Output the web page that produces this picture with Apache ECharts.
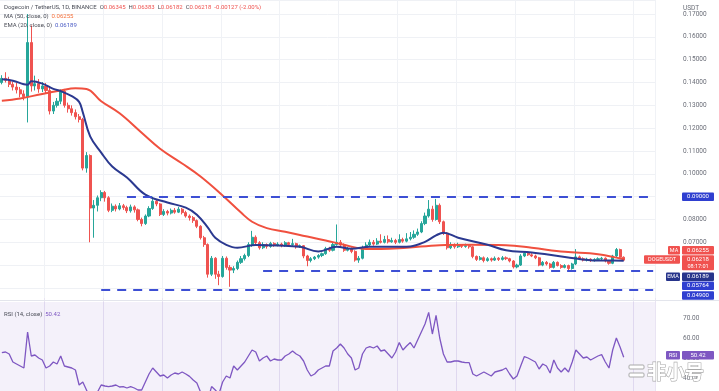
<!DOCTYPE html>
<html><head><meta charset="utf-8">
<script src="https://cdn.jsdelivr.net/npm/echarts@6/dist/echarts.min.js"></script>
<style>html,body{margin:0;padding:0;background:#fff;overflow:hidden}#c{width:719px;height:391px}</style>
</head><body><div id="c"></div>
<script>
// ---------------- data ----------------
const opens = [
.1400,.1418,.1410,.1392,.1380,.1368,.1350,.1338,.1575,.1385,
.1395,.1372,.1385,.1365,.1275,.1300,.1318,.1362,.1300,.1285,
.1268,.1250,.1238,.1025,.1080,.0850,.0862,.0895,.0918,.0895,
.0840,.0858,.0846,.0860,.0852,.0838,.0855,.0842,.0800,.0782,
.0815,.0848,.0880,.0868,.0822,.0835,.0828,.0840,.0832,.0845,
.0830,.0815,.0808,.0795,.0770,.0720,.0690,.0560,.0630,.0560,
.0550,.0630,.0590,.0578,.0585,.0612,.0628,.0642,.0690,.0722,
.0698,.0676,.0690,.0682,.0695,.0688,.0692,.0686,.0698,.0690,
.0694,.0680,.0685,.0640,.0620,.0628,.0635,.0642,.0650,.0672,
.0665,.0690,.0700,.0688,.0665,.0672,.0660,.0622,.0630,.0676,
.0688,.0700,.0692,.0705,.0700,.0712,.0702,.0708,.0700,.0712,
.0705,.0715,.0722,.0735,.0745,.0782,.0815,.0845,.0800,.0862,
.0790,.0740,.0676,.0690,.0680,.0688,.0682,.0685,.0680,.0638,
.0625,.0632,.0620,.0628,.0622,.0630,.0625,.0632,.0628,.0618,
.0592,.0600,.0640,.0652,.0645,.0640,.0632,.0600,.0612,.0605,
.0590,.0612,.0598,.0590,.0598,.0585,.0605,.0636,.0628,.0622,
.0626,.0620,.0625,.0628,.0630,.0618,.0608,.0640,.0668,.06345];
const highs = [
.1432,.1445,.1425,.1404,.1398,.1380,.1366,.1700,.1650,.1430,
.1415,.1402,.1398,.1378,.1315,.1332,.1370,.1372,.1312,.1300,
.1282,.1262,.1245,.1095,.1085,.0885,.0905,.0928,.0925,.0902,
.0870,.0866,.0872,.0868,.0860,.0865,.0862,.0848,.0808,.0822,
.0858,.0900,.0888,.0872,.0845,.0842,.0848,.0850,.0855,.0850,
.0838,.0822,.0815,.0800,.0775,.0728,.0695,.0640,.0635,.0575,
.0640,.0638,.0600,.0595,.0620,.0640,.0650,.0700,.0750,.0730,
.0705,.0700,.0695,.0702,.0700,.0700,.0698,.0705,.0702,.0715,
.0698,.0690,.0688,.0645,.0635,.0640,.0648,.0655,.0680,.0680,
.0700,.0778,.0710,.0695,.0680,.0678,.0665,.0640,.0685,.0700,
.0712,.0710,.0718,.0735,.0728,.0730,.0720,.0715,.0735,.0720,
.0740,.0745,.0752,.0760,.0792,.0830,.0885,.0860,.0890,.0870,
.0795,.0745,.0700,.0695,.0698,.0692,.0694,.0690,.0684,.0642,
.0640,.0638,.0635,.0633,.0638,.0635,.0640,.0638,.0632,.0622,
.0606,.0648,.0660,.0658,.0652,.0646,.0636,.0618,.0618,.0610,
.0618,.0616,.0604,.0604,.0602,.0610,.0670,.0642,.0634,.0632,
.0630,.0630,.0634,.0636,.0634,.0622,.0645,.0675,.0672,.06383];
const lows = [
.1392,.1400,.1380,.1365,.1352,.1335,.1322,.1225,.1360,.1365,
.1355,.1358,.1350,.1260,.1262,.1290,.1305,.1290,.1268,.1255,
.1238,.1225,.1015,.1005,.0700,.0720,.0835,.0880,.0878,.0832,
.0832,.0835,.0840,.0842,.0828,.0830,.0830,.0792,.0770,.0776,
.0810,.0842,.0858,.0815,.0815,.0818,.0822,.0825,.0828,.0822,
.0808,.0795,.0785,.0762,.0712,.0680,.0545,.0552,.0540,.0512,
.0545,.0580,.0505,.0565,.0578,.0605,.0620,.0635,.0680,.0690,
.0668,.0670,.0672,.0676,.0680,.0682,.0678,.0680,.0684,.0685,
.0672,.0675,.0630,.0595,.0612,.0622,.0628,.0635,.0645,.0658,
.0660,.0685,.0680,.0658,.0660,.0652,.0615,.0610,.0625,.0670,
.0680,.0685,.0688,.0695,.0695,.0695,.0698,.0692,.0695,.0698,
.0700,.0708,.0715,.0728,.0740,.0775,.0808,.0790,.0795,.0780,
.0732,.0668,.0670,.0672,.0675,.0675,.0676,.0672,.0630,.0618,
.0620,.0612,.0615,.0615,.0618,.0618,.0620,.0622,.0612,.0585,
.0586,.0596,.0635,.0640,.0635,.0626,.0595,.0595,.0598,.0584,
.0585,.0594,.0584,.0586,.0572,.0580,.0600,.0622,.0616,.0616,
.0614,.0615,.0618,.0622,.0612,.0602,.0604,.0635,.0630,.06182];
const closes = [
.1418,.1410,.1392,.1380,.1368,.1350,.1338,.1575,.1385,.1395,
.1372,.1385,.1365,.1275,.1300,.1318,.1362,.1300,.1285,.1268,
.1250,.1238,.1025,.1080,.0850,.0862,.0895,.0918,.0895,.0840,
.0858,.0846,.0860,.0852,.0838,.0855,.0842,.0800,.0782,.0815,
.0848,.0880,.0868,.0822,.0835,.0828,.0840,.0832,.0845,.0830,
.0815,.0808,.0795,.0770,.0720,.0690,.0560,.0630,.0560,.0550,
.0630,.0590,.0578,.0585,.0612,.0628,.0642,.0690,.0722,.0698,
.0676,.0690,.0682,.0695,.0688,.0692,.0686,.0698,.0690,.0694,
.0680,.0685,.0640,.0620,.0628,.0635,.0642,.0650,.0672,.0665,
.0690,.0700,.0688,.0665,.0672,.0660,.0622,.0630,.0676,.0688,
.0700,.0692,.0705,.0700,.0712,.0702,.0708,.0700,.0712,.0705,
.0715,.0722,.0735,.0745,.0782,.0815,.0845,.0800,.0862,.0790,
.0740,.0676,.0690,.0680,.0688,.0682,.0685,.0680,.0638,.0625,
.0632,.0620,.0628,.0622,.0630,.0625,.0632,.0628,.0618,.0592,
.0600,.0640,.0652,.0645,.0640,.0632,.0600,.0612,.0605,.0590,
.0612,.0598,.0590,.0598,.0585,.0605,.0636,.0628,.0622,.0626,
.0620,.0625,.0628,.0630,.0618,.0608,.0640,.0668,.06345,.06218];
// MA(50) and EMA(20): [candle index, value]
const maPoints = [[0,.1320],[5,.1330],[11,.1350],[16,.1365],[20,.1375],[23,.1372],[27,.1318],[32,.1265],
 [38,.1180],[43,.1110],[49,.1045],[54,.0988],[60,.0905],[65,.0830],[68,.0790],[72,.0762],[77,.0746],[83,.0725],
 [88,.0708],[93,.0689],[98,.0672],[103,.0670],[110,.0676],[119,.0687],[127,.0689],[137,.0687],[144,.0676],
 [153,.0658],[162,.0648],[169,.06255]];
const emaPoints = [[0,.1414],[3,.1408],[6,.1392],[7,.1390],[8,.1405],[11,.1395],[14,.1372],[16,.1362],[19,.1340],
 [21,.1315],[22,.1270],[24,.1164],[27,.1093],[30,.1032],[34,.0984],[39,.0909],[45,.0874],[50,.0852],[53,.0821],
 [56,.0764],[58,.0720],[61,.0689],[64,.0676],[69,.0688],[75,.0686],[81,.0680],[86,.0660],[91,.0680],[95,.0672],
 [100,.0680],[106,.0680],[111,.0682],[115,.0702],[118,.0730],[120,.0742],[124,.0720],[132,.0689],[137,.0665],
 [144,.0655],[153,.0636],[162,.0620],[166,.0620],[169,.06189]];
const rsiValues = [
52.7,53,52,48,47,46,45,63,51,51.5,
50,49,45,46,48,47,51,46,45.5,45,
44,36.5,38,34,30,31,33,36.5,36,35.7,
36,36.5,35.5,35.7,35,35.7,35,34,34,38,
42,45,43,41,41.5,40,41.5,42.5,42,43,
42,40.8,39,37.5,33,31,29,35.7,34,32,
38,41,40,46,44,46,48,51,54,53,
48.5,50,51,48.5,49.5,49,49,51,52,53.5,
52,51,48.5,44,41,42,44,45,46,46,
53.5,55,57,55,52,50,44,45,52,55,
55.7,55,56,53.5,54,52,50,53,57.7,54,
56,57.7,55,59,63,67,72.8,62,71.3,60,
52,48,48,48.5,48.5,48,47.7,47.7,42,41,
42,43,42,41,43,43.5,44,45,42,39.5,
41,46,50.7,50,49,48,44.5,47,46,42.5,
49,45,43,45,43,48,54,52,50,50.5,
49,50,51,51.7,48,45,54,60,55.5,50.42];
// horizontal levels: [value, first candle index]
const levelValues = [0.09, 0.05764, 0.049];
const levelStarts = [34, 71, 27];
const priceTickValues = [0.07,0.08,0.09,0.10,0.11,0.12,0.13,0.14,0.15,0.16,0.17];
const rsiTickValues = [40,50,60,70];
const header = {title:'Dogecoin / TetherUS, 1D, BINANCE', o:'0.06345', h:'0.06383', l:'0.06182', c:'0.06218', chg:'-0.00127 (-2.00%)',
  ma:'0.06255', ema:'0.06189', rsi:'50.42'};

// categories: trading days (plus empty right offset)
const totalSlots = 178;
const categories = [];
{ const d0 = new Date(Date.UTC(2022,3,1));
  for (let i=0;i<totalSlots;i++){ const d=new Date(d0.getTime()+i*86400000); categories.push(d.toISOString().slice(0,10)); } }

const FONT = 'Roboto, "Liberation Sans", sans-serif';
const UP='#26a69a', DOWN='#ef5350', MA_C='#f0503f', EMA_C='#2b3990', LVL='#3d4fd4', RSI_C='#7e57c2';

const candleData = opens.map((o,i)=>[o, closes[i], lows[i], highs[i]]);
const splitColors = ['rgba(0,0,0,0)'].concat(new Array(14).fill('#eff1f5'));

const chart = echarts.init(document.getElementById('c'), null, {renderer:'canvas'});
const option = {
  animation:false,
  backgroundColor:'#ffffff',
  grid:[
    {left:0, top:0, width:655, height:310.75, outerBoundsMode:'none', containLabel:false},
    {left:0, top:298, width:655, height:100, outerBoundsMode:'none', containLabel:false}
  ],
  xAxis:[
    {type:'category', data:categories, gridIndex:0, boundaryGap:true,
     axisLine:{show:false}, axisTick:{show:false}, axisLabel:{show:false},
     splitLine:{show:true, interval:(i)=>i%16===12, lineStyle:{color:'#f0f2f6', width:1}}},
    {type:'category', data:categories, gridIndex:1, boundaryGap:true,
     axisLine:{show:false}, axisTick:{show:false}, axisLabel:{show:false},
     splitLine:{show:true, interval:(i)=>i%16===12, lineStyle:{color:'#e9e4f3', width:1}}}
  ],
  yAxis:[
    {type:'value', gridIndex:0, position:'right', min:0.04, max:0.17615, interval:0.01, scale:false,
     axisLine:{show:false}, axisTick:{show:false},
     axisLabel:{margin:28, fontSize:6.5, color:'#6b6e78', fontFamily:FONT, showMaxLabel:false,
       formatter:(v)=>{const r=Math.round(v*100)/100; return priceTickValues.some(t=>Math.abs(t-r)<1e-9 && Math.abs(v-r)<1e-6)?r.toFixed(5):'';}},
     splitLine:{show:true, lineStyle:{color:splitColors, width:1}}},
    {type:'value', gridIndex:1, position:'right', min:30, max:80, interval:10,
     axisLine:{show:false}, axisTick:{show:false},
     axisLabel:{margin:28, fontSize:6.5, color:'#6b6e78', fontFamily:FONT,
       formatter:(v)=>rsiTickValues.indexOf(Math.round(v))>=0?v.toFixed(2):''},
     splitLine:{show:false}}
  ],
  series:[
    {type:'candlestick', name:'DOGEUSDT', xAxisIndex:0, yAxisIndex:0, data:candleData, barWidth:'70%',
     itemStyle:{color:UP, color0:DOWN, borderColor:UP, borderColor0:DOWN, borderWidth:1},
     markLine:{silent:true, symbol:['none','none'], label:{show:false}, animation:false,
       lineStyle:{color:LVL, width:2, type:[9,7]},
       data: levelValues.map((v,k)=>[{coord:[levelStarts[k], v]},{coord:[totalSlots-1, v]}])}},
    {type:'line', name:'MA', xAxisIndex:0, yAxisIndex:0, data:maPoints, smooth:0.4, showSymbol:false,
     lineStyle:{color:MA_C, width:2}, z:3},
    {type:'line', name:'EMA', xAxisIndex:0, yAxisIndex:0, data:emaPoints, smooth:0.4, showSymbol:false,
     lineStyle:{color:EMA_C, width:2}, z:4},
    {type:'line', name:'RSI', xAxisIndex:1, yAxisIndex:1, data:rsiValues, showSymbol:false,
     lineStyle:{color:RSI_C, width:1.3},
     markArea:{silent:true, itemStyle:{color:'rgba(126,87,194,0.085)'}, data:[[{yAxis:30},{yAxis:78}]]}}
  ]
};
chart.setOption(option);

// ---------------- annotations (text, tags) ----------------
const g = [];
function txt(x,y,rich,text,size){ g.push({type:'text', x:x, y:y, z:100, style:{text:text, rich:rich, fontSize:size||6, fontFamily:FONT, verticalAlign:'middle', fill:'#4a4d57'}}); }
const base = {fontSize:6, fontFamily:FONT};
txt(4,7,{t:Object.assign({fill:'#4a4d57'},base), v:Object.assign({fill:DOWN},base)},
  `{t|${header.title}  O}{v|${header.o}}{t|  H}{v|${header.h}}{t|  L}{v|${header.l}}{t|  C}{v|${header.c}}{v|  ${header.chg}}`);
txt(4,16,{t:Object.assign({fill:'#4a4d57'},base), v:Object.assign({fill:'#f5703a'},base)}, `{t|MA (50, close, 0)}  {v|${header.ma}}`);
txt(4,25,{t:Object.assign({fill:'#4a4d57'},base), v:Object.assign({fill:'#4a5bc4'},base)}, `{t|EMA (20, close, 0)}  {v|${header.ema}}`);
txt(4,314,{t:Object.assign({fill:'#4a4d57'},base), v:Object.assign({fill:RSI_C},base)}, `{t|RSI (14, close)}  {v|${header.rsi}}`);
g.push({type:'text', x:683, y:8, z:100, style:{text:'USDT', fontSize:6.5, fontFamily:FONT, fill:'#6b6e78', verticalAlign:'middle'}});
// pane separator
g.push({type:'line', z:50, shape:{x1:0,y1:300.5,x2:719,y2:300.5}, style:{stroke:'#e3e5ec', lineWidth:1}});

const tagDefs = [
  {axis:0, value:levelValues[0], text:'0.09000', color:'#2f3fd0', dy:0},
  {axis:0, value:levelValues[1], text:'0.05764', color:'#2f3fd0', dy:15.3},
  {axis:0, value:levelValues[2], text:'0.04900', color:'#2f3fd0', dy:5.2},
  {axis:0, value:emaPoints[emaPoints.length-1][1], text:header.ema, color:'#27348b', dy:16, side:'EMA', sideW:14},
  {axis:0, value:maPoints[maPoints.length-1][1], text:header.ma, color:'#f0524f', dy:-9, side:'MA', sideW:12},
  {axis:0, value:closes[closes.length-1], text:header.c, sub:'08:17:01', color:'#f0524f', dy:-0.7, side:'DOGEUSDT', sideW:36},
  {axis:1, value:rsiValues[rsiValues.length-1], text:header.rsi, color:RSI_C, dy:-2, side:'RSI', sideW:14}
];
tagDefs.forEach(t=>{
  const y0 = chart.convertToPixel({yAxisIndex:t.axis}, t.value) + t.dy;
  const h = 8.5;
  const boxH = t.sub ? 15 : h;
  g.push({type:'rect', z:110, shape:{x:682, y:y0-h/2, width:32, height:boxH, r:1}, style:{fill:t.color}});
  g.push({type:'text', z:111, x:698, y:y0, style:{text:t.text, fontSize:6, fontFamily:FONT, fill:'#ffffff', align:'center', verticalAlign:'middle'}});
  if (t.sub) g.push({type:'text', z:111, x:698, y:y0+7, style:{text:t.sub, fontSize:5.5, fontFamily:FONT, fill:'#ffffff', align:'center', verticalAlign:'middle'}});
  if (t.side){
    g.push({type:'rect', z:110, shape:{x:680-t.sideW, y:y0-h/2, width:t.sideW, height:h, r:1}, style:{fill:t.color}});
    g.push({type:'text', z:111, x:680-t.sideW/2, y:y0, style:{text:t.side, fontSize:5.5, fontFamily:FONT, fill:'#ffffff', align:'center', verticalAlign:'middle'}});
  }
});
// watermark
g.push({type:'rect', z:120, shape:{x:629, y:365, width:15, height:4, r:1}, style:{fill:'#ffffff', stroke:'#a9a9a9', lineWidth:1}});
g.push({type:'rect', z:120, shape:{x:629, y:373, width:15, height:4, r:1}, style:{fill:'#ffffff', stroke:'#a9a9a9', lineWidth:1}});
g.push({type:'text', z:120, x:647, y:372, style:{text:'非小号', fontSize:19, fontFamily:'"Noto Sans CJK SC", sans-serif', fontWeight:'bold',
  fill:'#ffffff', stroke:'#a9a9a9', lineWidth:1.2, verticalAlign:'middle'}});
chart.setOption({graphic:g});
</script>
</body></html>
